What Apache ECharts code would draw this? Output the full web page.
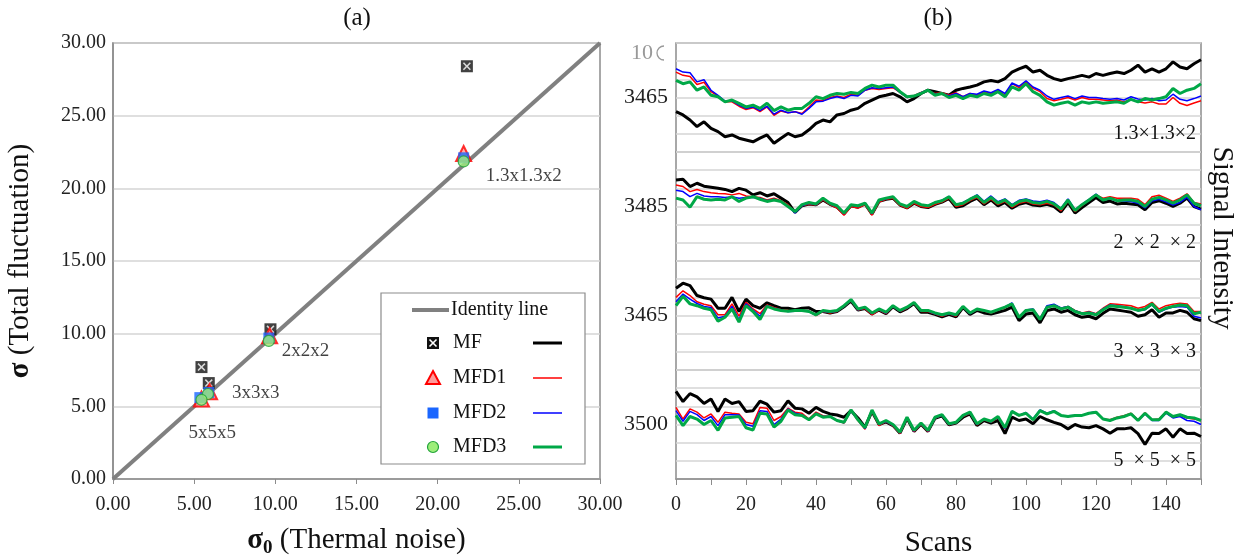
<!DOCTYPE html>
<html>
<head>
<meta charset="utf-8">
<script src="https://cdn.jsdelivr.net/npm/echarts@6/dist/echarts.min.js"></script>
<style>
  html, body { margin: 0; padding: 0; background: #fff; }
  #main { width: 1236px; height: 559px; }
</style>
</head>
<body>
<div id="main"></div>
<script>
// ---- panel (a): sigma vs sigma0 ----
var sizes = ['1.3x1.3x2', '2x2x2', '3x3x3', '5x5x5'];
var mfX = [21.8, 9.7, 5.9, 5.45];
var mfY = [28.4, 10.3, 6.6, 7.7];
var mfd1X = [21.6, 9.65, 5.95, 5.45];
var mfd1Y = [22.4, 9.85, 6.0, 5.5];
var mfd2X = [21.6, 9.6, 5.9, 5.35];
var mfd2Y = [22.1, 9.7, 5.95, 5.6];
var mfd3X = [21.6, 9.6, 5.85, 5.45];
var mfd3Y = [21.85, 9.5, 5.85, 5.45];
var identity = [[0, 0], [30, 30]];

// ---- panel (b): signal intensity vs scans ----
var scans = [0,2,4,6,8,10,12,14,16,18,20,22,24,26,28,30,32,34,36,38,
  40,42,44,46,48,50,52,54,56,58,60,62,64,66,68,70,72,74,76,78,
  80,82,84,86,88,90,92,94,96,98,100,102,104,106,108,110,112,114,116,118,
  120,122,124,126,128,130,132,134,136,138,140,142,144,146,148,150];
var panelNames = ['1.3×1.3×2', '2  × 2  × 2', '3  × 3  × 3', '5  × 5  × 5'];
var panelCenters = [3465, 3485, 3465, 3500];

// 1.3x1.3x2
var p1MF = [3461.1,3460.2,3458.8,3457.0,3458.3,3456.5,3455.6,3454.2,3454.7,3453.8,
  3453.3,3452.8,3453.8,3454.7,3452.4,3453.8,3455.1,3454.2,3454.7,3456.1,
  3457.9,3458.8,3458.3,3460.2,3460.6,3461.5,3462.0,3463.4,3464.3,3465.2,
  3465.6,3466.1,3465.2,3463.8,3464.7,3466.1,3467.0,3466.6,3466.1,3465.6,
  3467.0,3467.5,3467.9,3468.4,3469.3,3469.7,3469.3,3470.2,3472.0,3472.9,
  3473.6,3472.0,3472.5,3471.1,3470.2,3469.7,3470.2,3470.6,3471.1,3470.6,
  3471.6,3471.1,3471.6,3472.0,3471.6,3472.5,3473.9,3472.0,3472.9,3472.0,
  3472.9,3474.8,3473.4,3472.9,3474.3,3475.4];
var p1MFD1 = [3472.0,3471.1,3470.8,3468.6,3469.2,3466.6,3465.4,3463.8,3463.8,3462.6,
  3461.7,3462.2,3461.1,3462.4,3460.1,3461.3,3460.8,3461.1,3460.6,3462.4,
  3464.3,3464.1,3465.0,3465.4,3465.0,3465.9,3465.6,3467.0,3467.5,3467.2,
  3467.5,3467.7,3466.4,3465.0,3465.5,3466.4,3466.8,3466.1,3466.3,3465.6,
  3466.3,3465.2,3466.1,3465.6,3466.6,3466.1,3467.0,3465.6,3468.8,3467.7,
  3469.3,3467.5,3466.6,3464.7,3464.1,3464.5,3465.0,3464.3,3465.0,3464.5,
  3464.5,3464.3,3464.1,3464.3,3463.8,3464.5,3463.8,3463.5,3463.8,3463.2,
  3463.2,3465.0,3463.4,3462.8,3463.5,3464.1];
var p1MFD2 = [3472.9,3472.0,3471.8,3469.3,3469.9,3467.0,3465.6,3464.0,3464.1,3462.9,
  3462.0,3462.4,3461.4,3462.6,3460.4,3461.5,3460.8,3461.1,3460.4,3462.0,
  3463.8,3464.0,3464.7,3465.2,3464.7,3465.6,3465.4,3467.0,3467.7,3467.5,
  3467.7,3467.9,3466.4,3465.0,3465.4,3466.3,3467.0,3465.9,3466.1,3465.4,
  3466.1,3465.2,3466.1,3465.9,3466.8,3466.3,3467.2,3466.1,3469.0,3468.1,
  3469.6,3467.9,3467.0,3465.4,3464.5,3465.0,3465.4,3464.7,3465.4,3465.0,
  3465.0,3464.7,3464.5,3464.7,3464.3,3465.2,3464.6,3464.3,3464.7,3464.1,
  3464.3,3465.9,3464.5,3464.1,3464.7,3465.4];
var p1MFD3 = [3469.7,3468.8,3469.3,3467.0,3467.9,3465.6,3465.2,3463.8,3464.3,3463.4,
  3462.4,3462.9,3462.0,3463.4,3461.4,3462.4,3461.5,3462.0,3462.0,3463.4,
  3465.2,3464.7,3465.6,3466.1,3465.9,3466.4,3466.1,3467.5,3468.4,3467.9,
  3468.4,3468.4,3466.6,3465.2,3465.4,3466.1,3467.0,3465.6,3466.1,3465.0,
  3465.6,3464.7,3465.6,3465.2,3466.1,3465.6,3466.6,3465.2,3467.9,3467.0,
  3468.8,3466.6,3465.6,3463.8,3462.9,3463.4,3463.8,3462.9,3463.8,3463.4,
  3463.8,3463.4,3463.6,3463.8,3463.4,3464.5,3463.8,3464.7,3464.3,3464.7,
  3465.2,3467.5,3466.1,3467.0,3467.5,3468.8];

// 2x2x2
var p2MF = [3492.3,3492.5,3490.5,3491.4,3490.6,3490.3,3490.0,3489.7,3489.1,3490.0,
  3489.5,3488.2,3488.8,3487.9,3488.5,3487.3,3486.1,3483.4,3485.2,3485.7,
  3485.5,3486.8,3485.6,3484.8,3483.0,3485.2,3484.8,3485.7,3482.9,3486.4,
  3487.0,3487.3,3485.4,3484.6,3485.9,3485.0,3484.7,3485.6,3486.2,3487.2,
  3484.8,3485.2,3486.4,3487.3,3485.5,3486.8,3485.2,3486.1,3484.5,3485.6,
  3486.1,3485.4,3485.2,3485.6,3485.0,3483.5,3486.1,3483.2,3484.7,3486.1,
  3487.5,3486.1,3486.5,3485.7,3485.9,3485.7,3485.5,3484.1,3486.1,3486.6,
  3485.9,3485.0,3485.9,3487.3,3485.0,3484.3];
var p2MFD1 = [3490.9,3490.5,3489.1,3489.7,3489.1,3488.8,3488.6,3488.5,3488.2,3488.6,
  3487.9,3487.7,3487.5,3486.8,3487.3,3486.6,3485.5,3483.4,3485.2,3485.6,
  3485.4,3486.8,3485.5,3484.6,3482.6,3485.0,3484.6,3485.5,3482.6,3486.2,
  3487.0,3487.3,3485.3,3484.5,3485.9,3485.0,3484.7,3485.6,3486.2,3487.3,
  3485.0,3485.5,3486.6,3487.5,3485.7,3487.0,3485.5,3486.4,3484.8,3485.9,
  3486.4,3485.7,3485.5,3485.9,3485.4,3483.8,3486.5,3483.6,3485.2,3486.8,
  3488.2,3487.3,3487.7,3487.3,3487.3,3487.3,3487.0,3485.5,3487.7,3488.1,
  3487.3,3486.4,3487.3,3488.5,3486.1,3485.7];
var p2MFD2 = [3489.5,3489.1,3487.7,3488.6,3487.9,3487.7,3487.7,3487.5,3487.7,3487.3,
  3487.5,3487.5,3487.3,3486.6,3487.0,3486.4,3485.2,3483.2,3485.2,3485.9,
  3485.5,3487.1,3485.7,3485.0,3483.0,3485.4,3485.0,3485.8,3483.0,3486.6,
  3487.1,3487.6,3485.6,3484.9,3486.3,3485.5,3485.2,3486.1,3486.7,3487.8,
  3485.5,3486.1,3487.1,3488.2,3486.4,3487.9,3486.3,3487.1,3485.5,3486.7,
  3487.1,3486.5,3486.3,3486.7,3486.1,3484.5,3487.1,3484.1,3485.6,3487.0,
  3488.4,3486.8,3487.2,3486.5,3486.5,3486.4,3485.9,3484.6,3486.5,3487.0,
  3486.3,3485.4,3486.1,3487.5,3485.0,3484.1];
var p2MFD3 = [3487.3,3486.8,3484.8,3487.7,3487.0,3486.8,3487.0,3486.8,3487.7,3486.4,
  3487.3,3487.7,3487.0,3486.4,3486.8,3486.4,3485.0,3483.6,3485.5,3486.1,
  3485.7,3487.3,3485.9,3485.2,3483.2,3485.5,3485.2,3485.9,3483.2,3486.8,
  3487.3,3487.7,3485.7,3485.0,3486.4,3485.5,3485.2,3486.1,3486.6,3487.7,
  3485.5,3485.9,3487.0,3487.9,3486.1,3487.5,3485.9,3486.8,3485.2,3486.4,
  3486.8,3486.1,3485.9,3486.4,3485.7,3484.3,3486.8,3483.9,3485.5,3486.8,
  3488.2,3486.8,3487.3,3486.6,3486.8,3486.8,3486.4,3485.0,3487.0,3487.5,
  3486.8,3485.9,3486.8,3488.2,3485.9,3485.2];

// 3x3x3
var p3MF = [3472.5,3473.9,3473.2,3470.5,3469.9,3469.5,3467.0,3467.0,3470.0,3466.1,
  3469.5,3467.7,3467.0,3468.5,3467.7,3467.0,3467.0,3466.6,3467.0,3467.1,
  3466.1,3466.1,3465.7,3466.1,3467.4,3469.0,3466.5,3466.9,3465.4,3466.5,
  3465.5,3467.4,3466.0,3466.9,3468.3,3465.9,3465.9,3465.3,3464.6,3465.3,
  3464.6,3467.2,3465.3,3466.4,3465.7,3465.4,3465.9,3466.4,3467.3,3463.6,
  3465.4,3465.7,3463.0,3466.4,3466.8,3465.9,3466.4,3465.2,3464.5,3464.8,
  3464.1,3465.6,3466.8,3466.5,3466.2,3465.9,3464.8,3465.2,3466.6,3464.5,
  3465.7,3465.7,3466.4,3465.9,3464.1,3463.6];
var p3MFD1 = [3470.0,3471.8,3470.5,3468.8,3468.1,3467.7,3465.2,3465.2,3468.2,3464.8,
  3468.6,3466.8,3465.5,3467.9,3467.2,3466.6,3466.4,3466.2,3466.3,3466.2,
  3465.0,3466.1,3465.7,3466.1,3467.5,3469.1,3466.5,3466.9,3465.2,3466.5,
  3465.5,3467.5,3466.1,3467.0,3468.4,3466.1,3466.1,3465.4,3464.8,3465.5,
  3464.8,3467.4,3465.5,3466.6,3466.2,3465.7,3466.5,3467.1,3468.1,3464.5,
  3466.3,3466.6,3463.9,3467.5,3467.9,3467.0,3467.5,3466.4,3465.7,3466.1,
  3465.5,3467.0,3468.2,3468.1,3467.9,3467.7,3467.0,3467.5,3468.6,3466.8,
  3467.7,3468.1,3468.4,3468.2,3466.1,3466.1];
var p3MFD2 = [3468.8,3470.9,3469.5,3468.3,3467.5,3467.2,3464.3,3464.8,3467.5,3463.9,
  3468.2,3466.5,3464.8,3467.7,3467.0,3466.5,3466.1,3466.2,3466.3,3466.1,
  3465.1,3466.2,3465.9,3466.2,3467.5,3469.2,3466.6,3467.1,3465.5,3466.6,
  3465.7,3467.5,3466.2,3467.1,3468.5,3466.2,3466.2,3465.5,3465.0,3465.5,
  3465.0,3467.5,3465.5,3466.7,3466.3,3465.8,3466.6,3467.3,3468.5,3464.6,
  3466.5,3466.8,3464.1,3467.7,3468.1,3467.1,3467.5,3466.3,3465.6,3465.9,
  3465.4,3466.8,3467.9,3467.7,3467.4,3467.1,3466.3,3466.6,3467.9,3465.9,
  3466.8,3467.3,3467.5,3467.3,3464.8,3464.3];
var p3MFD3 = [3467.7,3470.3,3468.2,3467.7,3467.0,3466.6,3463.4,3464.5,3466.8,3463.2,
  3467.7,3466.1,3463.9,3467.5,3466.8,3466.4,3466.2,3466.4,3466.4,3466.1,
  3465.2,3466.4,3466.1,3466.4,3467.7,3469.4,3466.8,3467.3,3465.7,3466.8,
  3465.9,3467.7,3466.4,3467.3,3468.6,3466.4,3466.4,3465.7,3465.2,3465.7,
  3465.2,3467.5,3465.7,3466.8,3466.4,3465.9,3466.6,3467.3,3468.2,3464.5,
  3466.4,3466.6,3463.9,3467.3,3467.7,3466.8,3467.3,3466.1,3465.5,3465.7,
  3465.2,3466.6,3467.7,3467.5,3467.3,3467.0,3466.4,3466.8,3468.2,3466.1,
  3467.0,3467.5,3467.9,3467.7,3465.5,3465.9];

// 5x5x5
var p4MF = [3509.1,3506.3,3508.5,3507.6,3505.8,3507.0,3503.6,3507.0,3505.8,3506.3,
  3503.6,3503.8,3506.4,3505.6,3503.4,3503.8,3506.5,3504.5,3504.3,3503.1,
  3504.7,3503.6,3502.9,3502.6,3502.0,3503.8,3501.8,3499.3,3503.6,3500.0,
  3500.7,3499.7,3497.6,3501.7,3498.1,3500.1,3498.1,3501.7,3502.4,3499.9,
  3500.4,3502.0,3502.9,3499.7,3501.1,3500.4,3501.1,3497.5,3502.0,3501.1,
  3501.5,3500.2,3502.2,3501.3,3500.6,3500.0,3498.8,3500.0,3499.3,3499.1,
  3499.7,3498.8,3497.6,3498.8,3498.8,3499.1,3497.5,3494.5,3497.6,3497.5,
  3498.8,3496.5,3498.8,3497.5,3497.6,3496.7];
var p4MFD1 = [3504.7,3501.5,3504.3,3503.4,3501.8,3502.9,3500.6,3503.4,3503.1,3502.9,
  3500.6,3500.2,3504.7,3504.5,3501.1,3502.2,3504.5,3503.4,3503.1,3501.5,
  3503.4,3502.4,3502.2,3501.1,3500.4,3503.8,3501.1,3498.7,3503.6,3499.7,
  3500.8,3499.6,3497.5,3501.7,3498.0,3500.1,3498.0,3501.7,3502.5,3499.9,
  3500.4,3502.2,3503.1,3499.9,3501.3,3500.6,3501.9,3498.8,3503.5,3502.4,
  3503.1,3501.3,3503.8,3502.9,3503.6,3502.5,3502.2,3502.5,3502.5,3503.2,
  3503.4,3501.5,3501.3,3502.0,3502.4,3503.1,3501.3,3503.2,3501.3,3501.5,
  3503.5,3502.0,3502.6,3501.8,3501.5,3501.1];
var p4MFD2 = [3503.8,3500.9,3503.6,3502.7,3501.1,3502.2,3499.7,3502.7,3502.7,3502.6,
  3500.0,3499.5,3503.8,3503.6,3500.0,3501.5,3504.3,3503.1,3502.7,3501.3,
  3503.1,3502.2,3502.2,3501.1,3500.5,3503.7,3501.2,3498.9,3503.8,3500.0,
  3500.9,3499.8,3497.7,3501.8,3498.2,3500.2,3498.2,3501.8,3502.5,3500.0,
  3500.5,3502.3,3503.2,3500.0,3501.4,3500.7,3502.0,3498.9,3503.7,3502.5,
  3503.3,3501.5,3504.0,3503.1,3503.8,3502.5,3502.4,3502.5,3502.5,3503.2,
  3503.5,3501.5,3501.1,3501.8,3502.2,3502.9,3501.1,3502.9,3501.1,3501.1,
  3503.1,3501.8,3502.2,3501.1,3500.9,3500.0];
var p4MFD3 = [3502.5,3499.7,3502.2,3501.5,3500.0,3501.1,3498.4,3501.8,3502.0,3502.2,
  3499.1,3498.5,3503.1,3502.9,3499.3,3500.9,3504.0,3502.7,3502.5,3501.3,
  3502.9,3502.0,3502.2,3501.1,3500.6,3504.0,3501.3,3499.1,3504.0,3500.2,
  3501.1,3500.0,3497.9,3502.0,3498.4,3500.4,3498.4,3502.0,3502.7,3500.2,
  3500.6,3502.5,3503.4,3500.2,3501.5,3500.9,3502.2,3499.1,3503.6,3502.5,
  3503.1,3501.3,3503.8,3502.9,3503.6,3502.5,3502.2,3502.5,3502.5,3503.1,
  3503.4,3501.5,3501.1,3501.8,3502.2,3502.9,3501.1,3503.1,3501.3,3501.3,
  3503.4,3502.2,3502.7,3502.0,3501.8,3501.1];

var panels = [
  [p1MF, p1MFD1, p1MFD2, p1MFD3],
  [p2MF, p2MFD1, p2MFD2, p2MFD3],
  [p3MF, p3MFD1, p3MFD2, p3MFD3],
  [p4MF, p4MFD1, p4MFD2, p4MFD3]
];

var FONT = 'Liberation Serif';
var lineColors = ['#000000', '#ff0000', '#0000ff', '#00a847'];
var lineWidths = [3, 1.5, 1.5, 3];
var methodNames = ['MF', 'MFD1', 'MFD2', 'MFD3'];
var xMark = 'path://M0,1.4L1.4,0L5,3.6L8.6,0L10,1.4L6.4,5L10,8.6L8.6,10L5,6.4L1.4,10L0,8.6L3.6,5Z';

function pairs(xs, ys) {
  return xs.map(function (x, i) { return [x, ys[i]]; });
}

var chart = echarts.init(document.getElementById('main'));

var grids = [{ left: 113, top: 43, width: 487, height: 436, show: true, borderColor: '#8c8c8c', borderWidth: 1.5, outerBoundsMode: 'none' }];
var xAxes = [{
  gridIndex: 0, type: 'value', min: 0, max: 30, interval: 5,
  name: '{b|σ}{s|0} (Thermal noise)', nameLocation: 'middle', nameGap: 44,
  nameTextStyle: {
    fontFamily: FONT, fontSize: 29, color: '#111',
    rich: {
      b: { fontFamily: FONT, fontSize: 29, fontWeight: 'bold', color: '#111' },
      s: { fontFamily: FONT, fontSize: 19, fontWeight: 'bold', color: '#111', padding: [16, 0, 0, 0] }
    }
  },
  axisLine: { lineStyle: { color: '#8c8c8c', width: 1.5 } },
  axisTick: { show: true, length: 5, lineStyle: { color: '#8c8c8c' } },
  axisLabel: { fontFamily: FONT, fontSize: 20, color: '#222', margin: 16, formatter: function (v) { return v.toFixed(2); } },
  splitLine: { show: false }
}];
var yAxes = [{
  gridIndex: 0, type: 'value', min: 0, max: 30, interval: 5,
  name: '{b|σ} (Total fluctuation)', nameLocation: 'middle', nameGap: 78, nameRotate: 90,
  nameTextStyle: {
    fontFamily: FONT, fontSize: 29, color: '#111',
    rich: { b: { fontFamily: FONT, fontSize: 29, fontWeight: 'bold', color: '#111' } }
  },
  axisLine: { lineStyle: { color: '#8c8c8c', width: 1.5 } },
  axisTick: { show: false },
  axisLabel: { fontFamily: FONT, fontSize: 20, color: '#222', margin: 7, formatter: function (v) { return v.toFixed(2); } },
  splitLine: { lineStyle: { color: '#d4d4d4', width: 1.5 } }
}];

var series = [
  {
    name: 'Identity line', type: 'line', xAxisIndex: 0, yAxisIndex: 0,
    data: identity, symbol: 'none', lineStyle: { color: '#808080', width: 4 }, z: 1
  },
  {
    name: 'MF', type: 'scatter', xAxisIndex: 0, yAxisIndex: 0, data: pairs(mfX, mfY),
    symbol: 'rect', symbolSize: 12, itemStyle: { color: '#111' }, z: 5
  },
  {
    name: 'MF x', type: 'scatter', xAxisIndex: 0, yAxisIndex: 0, data: pairs(mfX, mfY),
    symbol: xMark, symbolSize: 8, itemStyle: { color: '#fff' }, z: 6, silent: true
  },
  {
    name: 'MFD1', type: 'scatter', xAxisIndex: 0, yAxisIndex: 0, data: pairs(mfd1X, mfd1Y),
    symbol: 'triangle', symbolSize: 15, itemStyle: { color: '#ff9a9a', borderColor: '#ff0000', borderWidth: 2 }, z: 7
  },
  {
    name: 'MFD2', type: 'scatter', xAxisIndex: 0, yAxisIndex: 0, data: pairs(mfd2X, mfd2Y),
    symbol: 'rect', symbolSize: 11, itemStyle: { color: '#1a66ff' }, z: 8
  },
  {
    name: 'MFD3', type: 'scatter', xAxisIndex: 0, yAxisIndex: 0,
    data: pairs(mfd3X, mfd3Y).map(function (p, i) {
      var offs = [[22, 15], [13, 10], [24, -1], [-13, 33]];
      return {
        value: p,
        label: {
          show: true, position: 'inside', align: 'left', offset: offs[i],
          formatter: sizes[i], fontFamily: FONT, fontSize: 19, color: '#111'
        }
      };
    }),
    symbol: 'circle', symbolSize: 11, itemStyle: { color: '#9dee7a', borderColor: '#22a33a', borderWidth: 1.2 }, z: 9
  }
];

// panel (b) grids
var tops = [43, 152, 261, 370];
for (var p = 0; p < 4; p++) {
  var gi = p + 1;
  var c = panelCenters[p];
  grids.push({ left: 676, top: tops[p], width: 525, height: 109, show: true, borderColor: '#8c8c8c', borderWidth: 1.5, outerBoundsMode: 'none' });
  var last = p === 3;
  xAxes.push({
    gridIndex: gi, type: 'value', min: 0, max: 150, interval: 10, show: true,
    name: last ? 'Scans' : '', nameLocation: 'middle', nameGap: 50,
    nameTextStyle: { fontFamily: FONT, fontSize: 29, color: '#111' },
    axisLine: { show: last, lineStyle: { color: '#8c8c8c', width: 1.5 } },
    axisTick: { show: last, length: 6, lineStyle: { color: '#8c8c8c' } },
    axisLabel: {
      show: last, fontFamily: FONT, fontSize: 20, color: '#222', margin: 16,
      formatter: function (v) { return v % 20 === 0 && v < 150 ? String(v) : ''; }
    },
    splitLine: { show: false }
  });
  yAxes.push({
    gridIndex: gi, type: 'value', min: c - 15, max: c + 15, interval: 5,
    axisLine: { show: false }, axisTick: { show: false },
    axisLabel: {
      fontFamily: FONT, fontSize: 22, color: '#222', margin: 8,
      formatter: (function (cc) { return function (v) { return v === cc ? String(v) : ''; }; })(c)
    },
    splitLine: { lineStyle: { color: '#d4d4d4', width: 1.5 } }
  });
  for (var m = 0; m < 4; m++) {
    var arr = panels[p][m];
    series.push({
      name: methodNames[m] + ' ' + panelNames[p], type: 'line', xAxisIndex: gi, yAxisIndex: gi,
      data: scans.map(function (s, k) { return [s, arr[k]]; }),
      symbol: 'none', lineStyle: { color: lineColors[m], width: lineWidths[m] }, z: 2 + m
    });
  }
}

// legend box and annotations
var legendRows = [343, 378, 413, 447];
var graphic = [
  { type: 'text', x: 357, y: 18, style: { text: '(a)', font: '25px "' + FONT + '"', fill: '#111', textAlign: 'center', textVerticalAlign: 'middle' } },
  { type: 'text', x: 938, y: 18, style: { text: '(b)', font: '25px "' + FONT + '"', fill: '#111', textAlign: 'center', textVerticalAlign: 'middle' } },
  { type: 'text', x: 1222, y: 238, rotation: -Math.PI / 2,
    style: { text: 'Signal Intensity', font: '29px "' + FONT + '"', fill: '#111', textAlign: 'center', textVerticalAlign: 'middle' } },
  { type: 'text', x: 653, y: 53, style: { text: '10', font: '22px "' + FONT + '"', fill: '#999', textAlign: 'right', textVerticalAlign: 'middle' } },
  { type: 'arc', shape: { cx: 664, cy: 53, r: 7, startAngle: Math.PI / 2, endAngle: Math.PI * 1.5 }, style: { stroke: '#999', lineWidth: 1.3, fill: null } },
  { type: 'rect', shape: { x: 381, y: 293, width: 204, height: 171 }, style: { fill: '#fff', stroke: '#8c8c8c', lineWidth: 1.2 }, z: 20 },
  { type: 'line', shape: { x1: 412, y1: 310, x2: 449, y2: 310 }, style: { stroke: '#808080', lineWidth: 4 }, z: 21 },
  { type: 'text', x: 451, y: 310, style: { text: 'Identity line', font: '20px "' + FONT + '"', fill: '#111', textVerticalAlign: 'middle' }, z: 21 },
  // MF marker
  { type: 'rect', shape: { x: 427, y: legendRows[0] - 6, width: 12, height: 12 }, style: { fill: '#111' }, z: 21 },
  { type: 'line', shape: { x1: 429.5, y1: legendRows[0] - 3.5, x2: 436.5, y2: legendRows[0] + 3.5 }, style: { stroke: '#fff', lineWidth: 1.6 }, z: 22 },
  { type: 'line', shape: { x1: 436.5, y1: legendRows[0] - 3.5, x2: 429.5, y2: legendRows[0] + 3.5 }, style: { stroke: '#fff', lineWidth: 1.6 }, z: 22 },
  // MFD1 marker
  { type: 'polygon', shape: { points: [[433, legendRows[1] - 7], [440, legendRows[1] + 6], [426, legendRows[1] + 6]] },
    style: { fill: '#ff9a9a', stroke: '#ff0000', lineWidth: 2 }, z: 21 },
  // MFD2 marker
  { type: 'rect', shape: { x: 427.5, y: legendRows[2] - 5.5, width: 11, height: 11 }, style: { fill: '#1a66ff' }, z: 21 },
  // MFD3 marker
  { type: 'circle', shape: { cx: 433, cy: legendRows[3], r: 5.5 }, style: { fill: '#9dee7a', stroke: '#22a33a', lineWidth: 1.2 }, z: 21 }
];
for (var r = 0; r < 4; r++) {
  graphic.push({ type: 'text', x: 453, y: legendRows[r], style: { text: methodNames[r], font: '20px "' + FONT + '"', fill: '#111', textVerticalAlign: 'middle' }, z: 21 });
  graphic.push({ type: 'line', shape: { x1: 533, y1: legendRows[r], x2: 562, y2: legendRows[r] }, style: { stroke: lineColors[r], lineWidth: lineWidths[r] }, z: 21 });
}
var labelTops = [134, 243, 352, 461];
for (var q = 0; q < 4; q++) {
  graphic.push({ type: 'text', x: 1196, y: labelTops[q], style: { text: panelNames[q], font: '20px "' + FONT + '"', fill: '#111', textAlign: 'right', textVerticalAlign: 'middle' }, z: 21 });
}

chart.setOption({
  animation: false,
  backgroundColor: '#fff',
  grid: grids,
  xAxis: xAxes,
  yAxis: yAxes,
  series: series,
  graphic: graphic
});
</script>
</body>
</html>
